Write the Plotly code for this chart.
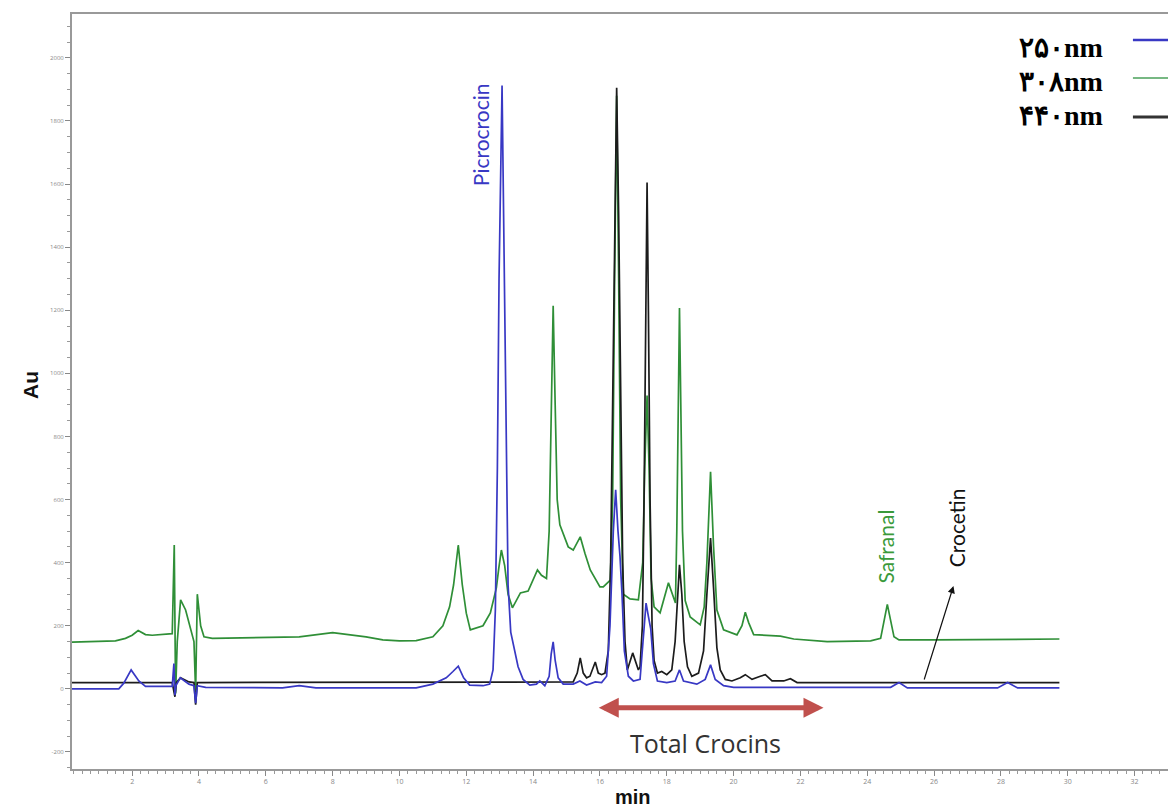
import plotly.graph_objects as go

# ---------------- data ----------------
# 250 nm trace (blue)
t_250 = [0.2, 1.6, 1.75, 1.97, 2.2, 2.4, 3.2, 3.25, 3.28, 3.31, 3.44, 3.7, 3.85, 3.9, 3.95,
         4.2, 6.5, 7.0, 7.5, 10.5, 11.0, 11.4, 11.6, 11.76, 11.92, 12.1, 12.5,
         12.7, 12.8, 12.87, 12.93, 12.98, 13.07, 13.14, 13.19, 13.25, 13.33, 13.42, 13.55,
         13.7, 13.9, 14.1, 14.2, 14.35, 14.48, 14.54, 14.6, 14.66, 14.75, 14.9,
         15.2, 15.4, 15.6, 15.86, 16.05, 16.2, 16.3, 16.4, 16.47, 16.54, 16.6, 16.66, 16.73,
         16.85, 17.0, 17.2, 17.3, 17.38, 17.45, 17.52, 17.6, 17.72, 18.0, 18.25, 18.38, 18.5,
         18.9, 19.15, 19.31, 19.45, 19.7, 20.0, 24.7, 24.95, 25.2, 27.9, 28.2, 28.5, 29.75]
v_250 = [0, 0, 18, 60, 25, 8, 8, 80, -20, 10, 35, 15, 10, -45, 10,
         5, 3, 10, 3, 3, 15, 35, 55, 72, 35, 12, 10,
         15, 60, 250, 700, 1300, 1912, 1300, 700, 330, 180, 130, 70,
         30, 12, 15, 25, 10, 40, 110, 149, 90, 35, 15,
         15, 25, 12, 22, 20, 40, 200, 500, 631, 500, 420, 300, 120,
         40, 25, 30, 150, 272, 230, 190, 80, 25, 20, 25, 60, 25,
         15, 30, 76, 30, 10, 5, 5, 20, 3, 3, 20, 3, 3]

# 308 nm trace (green)
t_308 = [0.2, 1.0, 1.5, 1.8, 2.0, 2.18, 2.4, 2.6, 3.2, 3.26, 3.3, 3.35, 3.45, 3.6, 3.75,
         3.85, 3.9, 3.95, 4.05, 4.15, 4.4, 6.0, 7.0, 8.0, 8.5, 9.0, 9.5, 10.0, 10.5, 11.0,
         11.3, 11.5, 11.62, 11.76, 11.88, 12.0, 12.12, 12.5, 12.72, 12.9, 12.97, 13.05,
         13.15, 13.25, 13.38, 13.62, 13.85, 14.05, 14.13, 14.25, 14.4, 14.48, 14.54, 14.6,
         14.66, 14.72, 14.8, 14.9, 15.05, 15.2, 15.41, 15.55, 15.71, 16.0, 16.1, 16.31,
         16.38, 16.44, 16.5, 16.56, 16.62, 16.7, 16.9, 17.15, 17.28, 17.34, 17.41, 17.47,
         17.53, 17.62, 17.8, 18.05, 18.26, 18.3, 18.34, 18.38, 18.42, 18.47, 18.55, 18.7,
         19.0, 19.12, 19.2, 19.31, 19.4, 19.5, 19.7, 20.1, 20.25, 20.35, 20.45, 20.6, 21.4,
         21.8, 22.8, 24.1, 24.4, 24.6, 24.8, 24.95, 26.0, 29.75]
v_308 = [148, 150, 152, 160, 170, 185, 172, 170, 175, 456, -15, 150, 282, 250, 190,
         150, -10, 300, 200, 165, 160, 162, 165, 178, 172, 165, 155, 152, 153, 165,
         200, 260, 330, 456, 330, 240, 187, 200, 241, 320, 380, 440,
         390, 300, 257, 304, 310, 360, 377, 360, 350, 500, 900, 1214,
         900, 600, 520, 494, 450, 440, 482, 430, 377, 323, 323, 345,
         600, 1300, 1880, 1300, 600, 300, 285, 282, 400, 700, 930, 700,
         350, 260, 241, 336, 272, 500, 900, 1207, 900, 500, 280, 228,
         203, 260, 400, 688, 450, 250, 187, 171, 200, 243, 210, 172, 167,
         158, 150, 152, 160, 268, 165, 155, 155, 158]

# 440 nm trace (black)
t_440 = [0.2, 3.2, 3.28, 3.32, 3.45, 3.7, 3.85, 3.9, 3.95, 15.2, 15.32, 15.41, 15.5, 15.6,
         15.7, 15.78, 15.86, 15.95, 16.05, 16.15, 16.25, 16.32, 16.38, 16.44, 16.5, 16.56,
         16.62, 16.68, 16.75, 16.82, 16.98, 17.15, 17.2, 17.27, 17.32, 17.37, 17.41, 17.45,
         17.5, 17.56, 17.62, 17.72, 17.85, 18.0, 18.15, 18.25, 18.32, 18.38, 18.45, 18.52,
         18.62, 18.75, 18.95, 19.1, 19.2, 19.31, 19.4, 19.5, 19.6, 19.75, 19.95, 20.2, 20.35,
         20.55, 20.8, 20.95, 21.15, 21.5, 21.7, 21.9, 29.75]
v_440 = [20, 20, -25, 20, 35, 22, 20, -50, 20, 22, 50, 98, 50, 35,
         40, 60, 85, 50, 45, 50, 120, 400, 900, 1500, 1905, 1500,
         900, 400, 150, 60, 114, 60, 70, 200, 600, 1200, 1605, 1200,
         600, 200, 90, 50, 55, 45, 60, 150, 300, 393, 300, 150,
         70, 40, 50, 120, 300, 478, 320, 130, 60, 30, 25, 35, 45,
         30, 40, 45, 25, 25, 32, 20, 20]

series_names = ["۲۵۰nm", "۳۰۸nm", "۴۴۰nm"]
y_ticks = [-200, 0, 200, 400, 600, 800, 1000, 1200, 1400, 1600, 1800, 2000]
x_ticks = [2, 4, 6, 8, 10, 12, 14, 16, 18, 20, 22, 24, 26, 28, 30, 32]

BLUE = "#3838c4"
GREEN = "#2f8f37"
BLACK = "#1c1c1c"

fig = go.Figure()
fig.add_trace(go.Scatter(x=t_308, y=v_308, mode="lines", name=series_names[1],
                         line=dict(color=GREEN, width=1.7)))
fig.add_trace(go.Scatter(x=t_440, y=v_440, mode="lines", name=series_names[2],
                         line=dict(color=BLACK, width=1.7)))
fig.add_trace(go.Scatter(x=t_250, y=v_250, mode="lines", name=series_names[0],
                         line=dict(color=BLUE, width=1.7)))

lab_font = "Lato, 'Open Sans', sans-serif"
annotations = [
    dict(x=12.45, y=1756, text="Picrocrocin", textangle=-90, showarrow=False,
         xanchor="center", yanchor="middle",
         font=dict(family=lab_font, size=21, color=BLUE)),
    dict(x=24.55, y=450, text="Safranal", textangle=-90, showarrow=False,
         xanchor="center", yanchor="middle",
         font=dict(family=lab_font, size=21, color="#3a9a3a")),
    dict(x=26.65, y=512, text="Crocetin", textangle=-90, showarrow=False,
         xanchor="center", yanchor="middle",
         font=dict(family=lab_font, size=21, color="#111111")),
    # arrow to crocetin
    dict(x=26.58, y=326, ax=25.69, ay=25, xref="x", yref="y", axref="x", ayref="y",
         text="", showarrow=True, arrowhead=2, arrowsize=1.2, arrowwidth=1.2,
         arrowcolor="#111111"),
    # red double arrow
    dict(x=22.69, y=-60, ax=15.92, ay=-60, xref="x", yref="y", axref="x", ayref="y",
         text="", showarrow=True, arrowhead=2, arrowside="end+start", arrowsize=0.8,
         arrowwidth=5, arrowcolor="#c0504d"),
    dict(x=19.16, y=-171, text="Total Crocins", showarrow=False,
         xanchor="center", yanchor="middle",
         font=dict(family="'Open Sans', Lato, sans-serif", size=25, color="#333333")),
    dict(x=-0.0383, y=0.5086, xref="paper", yref="paper", text="<b>Au</b>",
         textangle=-90, showarrow=False, xanchor="center", yanchor="middle",
         font=dict(family="'Liberation Sans', Arial, sans-serif", size=21, color="#111")),
    dict(x=0.512, y=-0.0365, xref="paper", yref="paper", text="<b>min</b>",
         showarrow=False, xanchor="center", yanchor="middle",
         font=dict(family="'Liberation Sans', Arial, sans-serif", size=20, color="#111")),
]

leg_y_text = [0.955, 0.910, 0.866]
leg_y_line = [0.9656, 0.9152, 0.8636]
leg_colors = [BLUE, "#4aa05a", "#333333"]
leg_widths = [2.5, 1.5, 3]
shapes = []
for name, yt, yl, c, w in zip(series_names, leg_y_text, leg_y_line, leg_colors, leg_widths):
    annotations.append(dict(x=0.9425, y=yt, xref="paper", yref="paper", text="<b>" + name + "</b>",
                            xanchor="right", yanchor="middle", showarrow=False,
                            font=dict(family="'Liberation Serif', 'DejaVu Serif', serif",
                                      size=28, color="#000")))
    shapes.append(dict(type="line", xref="paper", yref="paper", x0=0.968, x1=1.0,
                       y0=yl, y1=yl, line=dict(color=c, width=w)))

fig.update_layout(
    width=1168, height=811,
    margin=dict(l=72, r=0, t=14, b=42),
    paper_bgcolor="white", plot_bgcolor="white",
    showlegend=False,
    annotations=annotations,
    shapes=shapes,
    xaxis=dict(range=[0.2, 33.0], tickvals=x_ticks, ticktext=[str(v) for v in x_ticks],
               showgrid=False, zeroline=False, showline=True, mirror=True,
               linecolor="#999999", linewidth=2, ticks="outside", ticklen=5,
               tickcolor="#888888", tickfont=dict(size=7, color="#888888"),
               minor=dict(dtick=0.25, ticklen=3, tickcolor="#999999", ticks="outside")),
    yaxis=dict(range=[-254, 2139], tickvals=y_ticks, ticktext=[str(v) for v in y_ticks],
               showgrid=False, zeroline=False, showline=True,
               linecolor="#999999", linewidth=2, ticks="outside", ticklen=5,
               tickcolor="#888888", tickfont=dict(size=6, color="#888888"),
               minor=dict(dtick=50, ticklen=3, tickcolor="#999999", ticks="outside")),
)

fig.write_html("out.html",
               config={"displayModeBar": False},
               post_script="document.body.style.margin='0';document.body.style.padding='0';"
                           "document.body.style.overflow='hidden';")
